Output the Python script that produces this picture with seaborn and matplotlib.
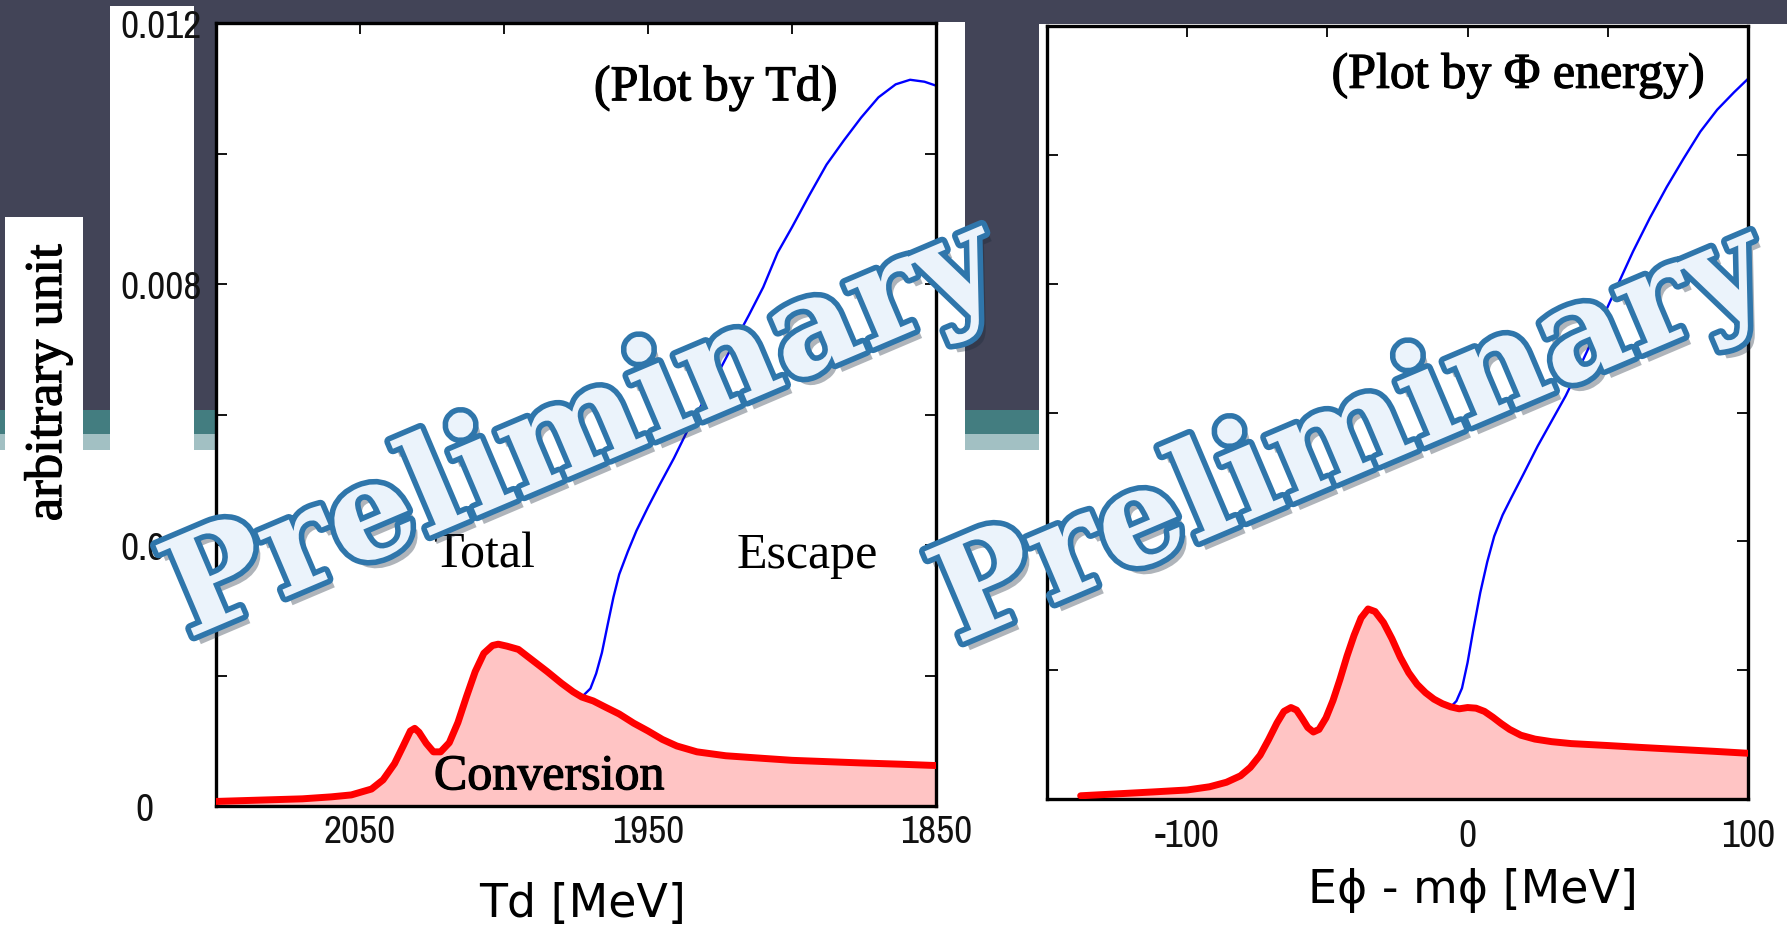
import re
import numpy as np
import matplotlib
matplotlib.use("Agg")
import matplotlib.pyplot as plt
import matplotlib.patheffects as pe
from matplotlib.patches import Rectangle
from matplotlib.transforms import ScaledTranslation
from matplotlib.font_manager import FontProperties
from matplotlib.textpath import TextPath
from matplotlib import font_manager
import seaborn as sns

# ---------------- data ----------------
# Spectrum plotted against deuteron kinetic energy Td [MeV]
td_conv = [2100, 2085, 2070, 2060, 2053, 2046, 2042, 2038, 2035, 2032.5, 2031, 2029.5,
           2027, 2024.5, 2022, 2019, 2016, 2013, 2010, 2007, 2004, 2002, 1999, 1995,
           1990, 1985, 1980, 1976, 1973, 1969, 1965, 1960, 1955, 1950, 1945, 1940,
           1933, 1923, 1910, 1900, 1888, 1876, 1862, 1850]
conv_td = [0.00007, 0.00009, 0.00011, 0.00014, 0.00017, 0.00026, 0.00040, 0.00065,
           0.00092, 0.00115, 0.00119, 0.00113, 0.00096, 0.00083, 0.00083, 0.00097,
           0.00128, 0.00168, 0.00206, 0.00234, 0.00246, 0.00248, 0.00245, 0.00240,
           0.00223, 0.00206, 0.00188, 0.00175, 0.00167, 0.00161, 0.00152, 0.00141,
           0.00127, 0.00115, 0.00102, 0.00092, 0.00083, 0.00077, 0.00073, 0.00070,
           0.00068, 0.00066, 0.00064, 0.00062]

td_total = [1973, 1970, 1968, 1966, 1964, 1962, 1960, 1957, 1954, 1950, 1946, 1941,
            1936, 1930, 1925, 1920, 1915, 1910, 1905, 1900, 1894, 1888, 1882, 1876,
            1870, 1864, 1859, 1854, 1850]
total_td = [0.00167, 0.00180, 0.00203, 0.00235, 0.00278, 0.00320, 0.00355, 0.00390,
            0.00422, 0.00458, 0.00492, 0.00533, 0.00578, 0.00626, 0.00669, 0.00711,
            0.00752, 0.00795, 0.00848, 0.00887, 0.00936, 0.00983, 0.01020, 0.01055,
            0.01086, 0.01106, 0.01113, 0.01110, 0.01104]

# Spectrum plotted against E_phi - m_phi [MeV]
e_conv = [-138, -125, -112, -100, -92, -86, -81, -77.5, -74, -71, -68, -65.5, -63,
          -61, -59, -57, -55, -53, -50.5, -48, -45.5, -43, -40.5, -38, -35.5, -33,
          -30, -27, -24, -21, -18, -15, -12, -9, -6, -3, 0, 3, 6, 9, 12, 15, 19, 24,
          30, 37, 50, 62, 75, 88, 100]
conv_e = [0.00005, 0.00008, 0.00011, 0.00014, 0.00019, 0.00026, 0.00036, 0.00049,
          0.00068, 0.00092, 0.00118, 0.00136, 0.00142, 0.00138, 0.00125, 0.00111,
          0.00104, 0.00108, 0.00126, 0.00153, 0.00186, 0.00222, 0.00254, 0.00281,
          0.00295, 0.00291, 0.00274, 0.00249, 0.00220, 0.00196, 0.00178, 0.00165,
          0.00155, 0.00148, 0.00143, 0.00140, 0.00142, 0.00141, 0.00136, 0.00127,
          0.00117, 0.00108, 0.00099, 0.00093, 0.00089, 0.00086, 0.00083, 0.00080,
          0.00077, 0.00074, 0.00071]

e_total = [-6, -4, -2, 0, 2, 4.5, 7, 9.5, 12.5, 15.5, 20, 25, 30, 35, 41, 47, 53, 59,
           65, 71, 77, 83, 89, 95, 100]
total_e = [0.00143, 0.00152, 0.00172, 0.00212, 0.00262, 0.00320, 0.00368, 0.00408,
           0.00441, 0.00467, 0.00505, 0.00548, 0.00587, 0.00626, 0.00680, 0.00736,
           0.00793, 0.00850, 0.00902, 0.00950, 0.00994, 0.01036, 0.01070, 0.01097,
           0.01118]

y_major = [0, 0.004, 0.008, 0.012]
y_major_labels = ["0", "0.004", "0.008", "0.012"]
y_minor = [0.002, 0.006, 0.010]
td_major = [2050, 1950, 1850]
td_minor = [2000, 1900]
e_major = [-100, 0, 100]
e_minor = [-50, 50]

# ---------------- style ----------------
sns.set_theme(style="ticks")
plt.rcParams["font.family"] = ["DejaVu Sans"]


def condensed_font_file():
    """Return the path of an installed upright, regular-weight condensed sans face."""
    ranked = []
    for f in font_manager.fontManager.ttflist:
        if f.style != "normal" or f.weight not in (400, "normal", "regular", "book"):
            continue
        base = f.fname.rsplit("/", 1)[-1]
        tag = f"{f.name} {base} {f.stretch}"
        if re.search(r"(?i)serif|mono|italic|bold|light|medium|thin|black", base.replace("Sans", "")):
            continue
        if re.search(r"(?i)extra.?condensed|ultra.?condensed", tag):
            rank = 2
        elif re.search(r"(?i)semi.?condensed", tag):
            rank = 1
        elif re.search(r"(?i)condensed|narrow", tag):
            rank = 0
        else:
            continue
        ranked.append((rank, base, f.fname))
    ranked.sort()
    return ranked[0][2] if ranked else None


cond_path = condensed_font_file()
if cond_path:
    TICK_BASE = FontProperties(fname=cond_path)
else:
    TICK_BASE = FontProperties(family="DejaVu Sans")

# size the tick font so "0.012" is at most ~82 px wide and digits ~28 px tall
_ext = TextPath((0, 0), "0.012", size=100, prop=TICK_BASE).get_extents()
_w_per_pt = _ext.width / 100 * (100 / 72)
_h_per_pt = _ext.height / 100 * (100 / 72)
TICK_SIZE = min(82 / _w_per_pt, 28 / _h_per_pt)
TICK_FP = TICK_BASE.copy()
TICK_FP.set_size(TICK_SIZE)

SERIF = "Liberation Serif"
RED = "#ff0000"
PINK = "#ffc4c4"
BLUE = "#0000ff"
SLATE = "#424457"
TEAL = "#437d80"
PALE_TEAL = "#a2c0c3"

W, H = 1787, 929
fig = plt.figure(figsize=(W / 100, H / 100), dpi=100, facecolor="white")

# slide background, in pixel coordinates
bg = fig.add_axes([0, 0, 1, 1], zorder=-5)
bg.set_xlim(0, W)
bg.set_ylim(H, 0)
bg.axis("off")


def block(x0, y0, x1, y1, color):
    bg.add_patch(Rectangle((x0, y0), x1 - x0, y1 - y0, facecolor=color, lw=0))


block(0, 0, W, 411, SLATE)
block(0, 411, W, 435, TEAL)
block(0, 435, W, 451, PALE_TEAL)
for x0, y0, x1, y1 in [(110, 7, 194, H), (5, 218, 83, H), (216, 23, 965, H), (1039, 25, W, H)]:
    block(x0, y0, x1, y1, "white")


def frac_box(x0, y_top, x1, y_bot):
    return [x0 / W, 1 - y_bot / H, (x1 - x0) / W, (y_bot - y_top) / H]


axL = fig.add_axes(frac_box(216, 24, 936, 807))
axR = fig.add_axes(frac_box(1047, 27, 1748, 800))


def style_axes(ax):
    ax.set_facecolor("white")
    for s in ax.spines.values():
        s.set_visible(True)
        s.set_linewidth(2.4)
        s.set_color("black")
    ax.tick_params(which="both", direction="in", length=8, width=1.3, color="black",
                   top=True, right=True, bottom=True, left=True)
    ax.set_ylim(0, 0.012)
    ax.set_xlabel("")
    ax.set_ylabel("")
    ax.grid(False)


heavy = [pe.withStroke(linewidth=0.9, foreground="black")]

# ---- left panel: Td ----
axL.fill_between(td_conv, 0, conv_td, color=PINK, lw=0, zorder=1)
sns.lineplot(x=td_total, y=total_td, ax=axL, color=BLUE, lw=1.7, sort=False,
             estimator=None, zorder=2)
sns.lineplot(x=td_conv, y=conv_td, ax=axL, color=RED, lw=5, sort=False,
             estimator=None, zorder=3)
style_axes(axL)
axL.set_xlim(2100, 1850)
axL.set_xticks(td_major)
axL.set_xticks(td_minor, minor=True)
axL.set_xticklabels([str(v) for v in td_major])
axL.set_yticks(y_major)
axL.set_yticks(y_minor, minor=True)
axL.set_yticklabels(y_major_labels)
axL.tick_params(axis="x", which="major", pad=6)
axL.tick_params(axis="y", which="major", pad=69)
for lab in axL.get_xticklabels() + axL.get_yticklabels():
    lab.set_fontproperties(TICK_FP)
    lab.set_color("#111111")
for lab in axL.get_yticklabels():
    lab.set_horizontalalignment("left")
zero_lab = axL.get_yticklabels()[0]
zero_lab.set_transform(zero_lab.get_transform() + ScaledTranslation(0.15, 0, fig.dpi_scale_trans))

axL.text(0.694, 0.917, "(Plot by Td)", transform=axL.transAxes, ha="center", va="center",
         fontsize=36, family=SERIF, color="black", path_effects=heavy)
axL.text(0.372, 0.321, "Total", transform=axL.transAxes, ha="center", va="center",
         fontsize=36, family=SERIF, color="black")
axL.text(0.821, 0.321, "Escape", transform=axL.transAxes, ha="center", va="center",
         fontsize=36, family=SERIF, color="black")
axL.text(0.4625, 0.037, "Conversion", transform=axL.transAxes, ha="center", va="center",
         fontsize=36, family=SERIF, color="black", zorder=5, path_effects=heavy)

# ---- right panel: E_phi - m_phi ----
axR.fill_between(e_conv, 0, conv_e, color=PINK, lw=0, zorder=1)
sns.lineplot(x=e_total, y=total_e, ax=axR, color=BLUE, lw=1.7, sort=False,
             estimator=None, zorder=2)
sns.lineplot(x=e_conv, y=conv_e, ax=axR, color=RED, lw=5, sort=False,
             estimator=None, zorder=3)
style_axes(axR)
axR.set_xlim(-150, 100)
axR.set_xticks(e_major)
axR.set_xticks(e_minor, minor=True)
axR.set_xticklabels([str(v) for v in e_major])
for lab in axR.get_xticklabels():
    lab.set_fontproperties(TICK_FP)
    lab.set_color("#111111")
axR.tick_params(axis="x", which="major", pad=14)
axR.set_yticks(y_minor + y_major[1:])
axR.set_yticklabels([])
axR.set_yticks([], minor=True)

axR.text(0.672, 0.936, "(Plot by \u03a6 energy)", transform=axR.transAxes, ha="center",
         va="center", fontsize=36, family=SERIF, color="black", path_effects=heavy)

# axis titles
fig.text(583 / W, 1 - 905 / H, "Td [MeV]", ha="center", va="center", fontsize=33,
         family="DejaVu Sans", color="black")
fig.text(1473 / W, 1 - 891 / H, "E\u03d5 - m\u03d5 [MeV]", ha="center", va="center",
         fontsize=33, family="DejaVu Sans", color="black")
fig.text(48 / W, 1 - 384 / H, "arbitrary unit", rotation=90, ha="center", va="center",
         fontsize=38, family=SERIF, color="black", path_effects=heavy)

# "Preliminary" stamps
stamp_fx = [
    pe.SimplePatchShadow(offset=(5, -6), shadow_rgbFace="#1c2a3a", alpha=0.35),
    pe.Stroke(linewidth=8, foreground="#2f76ab"),
    pe.Normal(),
]
for cx, cy in [(583, 432), (1352, 438)]:
    fig.text(cx / W, 1 - cy / H, "Preliminary", rotation=23, rotation_mode="anchor",
             ha="center", va="center", fontsize=97, family="DejaVu Serif",
             weight="bold", color="#ebf3fb", zorder=20, path_effects=stamp_fx)

fig.savefig("out.png", dpi=100, facecolor=fig.get_facecolor())
